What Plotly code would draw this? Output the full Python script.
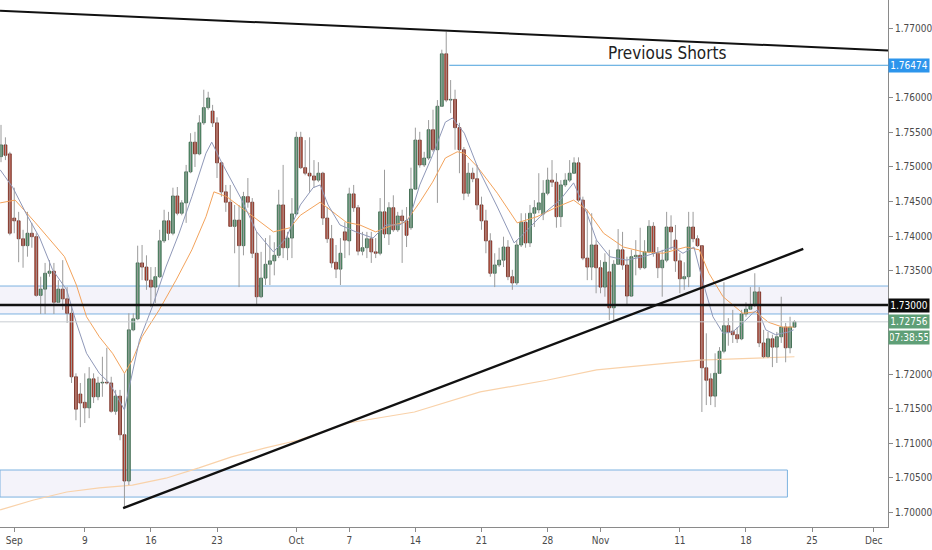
import plotly.graph_objects as go

# 8h candles, x = bar index (weekends skipped like the trading view axis)
opens = [
    1.7515, 1.7532, 1.7519, 1.7426, 1.7422, 1.7396, 1.7386, 1.7404, 1.7399, 1.7314,
    1.7323, 1.7346, 1.7349, 1.7304, 1.7323, 1.7309, 1.7288, 1.7196, 1.7171, 1.7159,
    1.7151, 1.7193, 1.7167, 1.7187, 1.7188, 1.7187, 1.7146, 1.7168, 1.7112, 1.7045,
    1.7264, 1.7280, 1.7361, 1.7355, 1.7336, 1.7326, 1.7341, 1.7393, 1.7422, 1.7404,
    1.7458, 1.7433, 1.7448, 1.7493, 1.7536, 1.7519, 1.7564, 1.7586, 1.7581, 1.7564,
    1.7506, 1.7464, 1.7449, 1.7414, 1.7423, 1.7386, 1.7457, 1.7449, 1.7375, 1.7312,
    1.7339, 1.7359, 1.7364, 1.7372, 1.7445, 1.7383, 1.7397, 1.7432, 1.7543, 1.7499,
    1.7491, 1.7487, 1.7481, 1.7491, 1.7426, 1.7396, 1.7362, 1.7352, 1.7406, 1.7393,
    1.7461, 1.7441, 1.7378, 1.7383, 1.7396, 1.7377, 1.7375, 1.7435, 1.7403, 1.7441,
    1.7409, 1.7429, 1.7422, 1.7412, 1.7468, 1.7539, 1.7503, 1.7513, 1.7554, 1.7525,
    1.7588, 1.7664, 1.7597, 1.7598, 1.7557, 1.7525, 1.7462, 1.7491, 1.7483, 1.7445,
    1.7422, 1.7393, 1.7346, 1.7358, 1.7365, 1.7384, 1.7341, 1.7332, 1.7387, 1.7420,
    1.7390, 1.7433, 1.7438, 1.7432, 1.7462, 1.7481, 1.7478, 1.7428, 1.7474, 1.7481,
    1.7491, 1.7506, 1.7452, 1.7368, 1.7355, 1.7387, 1.7354, 1.7326, 1.7348, 1.7296,
    1.7359, 1.7380, 1.7358, 1.7313, 1.7370, 1.7372, 1.7354, 1.7377, 1.7414, 1.7375,
    1.7354, 1.7365, 1.7413, 1.7394, 1.7364, 1.7338, 1.7341, 1.7413, 1.7396, 1.7386,
    1.7209, 1.7193, 1.7168, 1.7201, 1.7233, 1.7270, 1.7262, 1.7257, 1.7251, 1.7287,
    1.7294, 1.7300, 1.7319, 1.7245, 1.7225, 1.7251, 1.7239, 1.7254, 1.7268, 1.7238,
    1.7268,
]
highs = [
    1.7561, 1.7543, 1.7522, 1.7470, 1.7435, 1.7409, 1.7435, 1.7419, 1.7404, 1.7341,
    1.7361, 1.7365, 1.7361, 1.7336, 1.7365, 1.7326, 1.7297, 1.7201, 1.7187, 1.7201,
    1.7210, 1.7201, 1.7196, 1.7225, 1.7238, 1.7196, 1.7177, 1.7177, 1.7201, 1.7288,
    1.7288, 1.7386, 1.7387, 1.7372, 1.7355, 1.7355, 1.7409, 1.7438, 1.7435, 1.7470,
    1.7471, 1.7452, 1.7503, 1.7549, 1.7551, 1.7575, 1.7612, 1.7609, 1.7590, 1.7572,
    1.7507, 1.7474, 1.7474, 1.7445, 1.7445, 1.7464, 1.7484, 1.7455, 1.7406, 1.7377,
    1.7397, 1.7401, 1.7391, 1.7467, 1.7503, 1.7406, 1.7455, 1.7551, 1.7551, 1.7539,
    1.7543, 1.7510, 1.7507, 1.7493, 1.7442, 1.7416, 1.7387, 1.7397, 1.7420, 1.7470,
    1.7474, 1.7445, 1.7406, 1.7406, 1.7406, 1.7397, 1.7455, 1.7496, 1.7449, 1.7459,
    1.7435, 1.7438, 1.7442, 1.7499, 1.7557, 1.7551, 1.7522, 1.7568, 1.7583, 1.7597,
    1.7670, 1.7696, 1.7626, 1.7612, 1.7564, 1.7529, 1.7506, 1.7499, 1.7503, 1.7457,
    1.7438, 1.7404, 1.7375, 1.7383, 1.7399, 1.7394, 1.7351, 1.7394, 1.7433, 1.7433,
    1.7445, 1.7452, 1.7491, 1.7481, 1.7499, 1.7510, 1.7491, 1.7481, 1.7491, 1.7510,
    1.7514, 1.7514, 1.7457, 1.7438, 1.7433, 1.7394, 1.7365, 1.7375, 1.7380, 1.7365,
    1.7410, 1.7406, 1.7370, 1.7380, 1.7394, 1.7412, 1.7394, 1.7423, 1.7420, 1.7384,
    1.7380, 1.7435, 1.7430, 1.7416, 1.7375, 1.7362, 1.7435, 1.7435, 1.7401, 1.7387,
    1.7259, 1.7201, 1.7230, 1.7239, 1.7333, 1.7281, 1.7293, 1.7268, 1.7293, 1.7304,
    1.7326, 1.7346, 1.7326, 1.7264, 1.7261, 1.7257, 1.7261, 1.7312, 1.7274, 1.7283,
    1.7278,
]
lows = [
    1.7507, 1.7510, 1.7401, 1.7404, 1.7362, 1.7354, 1.7370, 1.7383, 1.7312, 1.7287,
    1.7287, 1.7341, 1.7287, 1.7303, 1.7293, 1.7274, 1.7187, 1.7133, 1.7123, 1.7129,
    1.7136, 1.7158, 1.7162, 1.7167, 1.7185, 1.7144, 1.7141, 1.7104, 1.7006, 1.7039,
    1.7262, 1.7278, 1.7336, 1.7322, 1.7297, 1.7303, 1.7339, 1.7390, 1.7394, 1.7401,
    1.7430, 1.7430, 1.7419, 1.7491, 1.7500, 1.7517, 1.7561, 1.7583, 1.7558, 1.7484,
    1.7457, 1.7435, 1.7413, 1.7375, 1.7326, 1.7372, 1.7441, 1.7368, 1.7300, 1.7310,
    1.7329, 1.7329, 1.7343, 1.7368, 1.7368, 1.7365, 1.7368, 1.7430, 1.7497, 1.7488,
    1.7464, 1.7470, 1.7478, 1.7416, 1.7390, 1.7354, 1.7339, 1.7329, 1.7368, 1.7372,
    1.7435, 1.7372, 1.7372, 1.7368, 1.7361, 1.7368, 1.7372, 1.7397, 1.7387, 1.7406,
    1.7406, 1.7361, 1.7384, 1.7409, 1.7467, 1.7499, 1.7500, 1.7510, 1.7522, 1.7448,
    1.7587, 1.7594, 1.7578, 1.7525, 1.7491, 1.7452, 1.7457, 1.7478, 1.7438, 1.7409,
    1.7375, 1.7341, 1.7326, 1.7355, 1.7355, 1.7336, 1.7322, 1.7329, 1.7384, 1.7383,
    1.7384, 1.7413, 1.7433, 1.7423, 1.7459, 1.7471, 1.7412, 1.7413, 1.7471, 1.7478,
    1.7491, 1.7449, 1.7365, 1.7336, 1.7336, 1.7317, 1.7317, 1.7312, 1.7278, 1.7278,
    1.7358, 1.7351, 1.7300, 1.7312, 1.7343, 1.7351, 1.7352, 1.7375, 1.7370, 1.7339,
    1.7312, 1.7362, 1.7380, 1.7348, 1.7317, 1.7322, 1.7326, 1.7391, 1.7384, 1.7145,
    1.7155, 1.7155, 1.7152, 1.7200, 1.7230, 1.7241, 1.7245, 1.7245, 1.7249, 1.7283,
    1.7293, 1.7297, 1.7239, 1.7223, 1.7223, 1.7210, 1.7216, 1.7245, 1.7217, 1.7230,
    1.7267,
]
closes = [
    1.7532, 1.7517, 1.7404, 1.7422, 1.7396, 1.7386, 1.7404, 1.7399, 1.7314, 1.7323,
    1.7346, 1.7349, 1.7304, 1.7323, 1.7309, 1.7288, 1.7196, 1.7149, 1.7158, 1.7151,
    1.7193, 1.7167, 1.7187, 1.7188, 1.7187, 1.7146, 1.7168, 1.7112, 1.7045, 1.7264,
    1.7280, 1.7361, 1.7355, 1.7336, 1.7326, 1.7341, 1.7393, 1.7422, 1.7404, 1.7458,
    1.7433, 1.7448, 1.7493, 1.7536, 1.7519, 1.7564, 1.7586, 1.7600, 1.7564, 1.7506,
    1.7464, 1.7449, 1.7414, 1.7423, 1.7386, 1.7457, 1.7449, 1.7375, 1.7312, 1.7339,
    1.7359, 1.7364, 1.7372, 1.7445, 1.7383, 1.7397, 1.7432, 1.7543, 1.7499, 1.7491,
    1.7487, 1.7481, 1.7491, 1.7426, 1.7396, 1.7361, 1.7352, 1.7375, 1.7394, 1.7461,
    1.7441, 1.7378, 1.7383, 1.7396, 1.7377, 1.7375, 1.7435, 1.7403, 1.7441, 1.7409,
    1.7429, 1.7422, 1.7401, 1.7468, 1.7539, 1.7503, 1.7513, 1.7554, 1.7525, 1.7588,
    1.7664, 1.7597, 1.7598, 1.7557, 1.7525, 1.7462, 1.7491, 1.7483, 1.7445, 1.7422,
    1.7393, 1.7346, 1.7358, 1.7365, 1.7384, 1.7341, 1.7332, 1.7387, 1.7420, 1.7390,
    1.7433, 1.7441, 1.7448, 1.7462, 1.7481, 1.7478, 1.7428, 1.7474, 1.7481, 1.7491,
    1.7506, 1.7452, 1.7368, 1.7355, 1.7387, 1.7354, 1.7326, 1.7362, 1.7296, 1.7359,
    1.7380, 1.7358, 1.7313, 1.7370, 1.7372, 1.7354, 1.7377, 1.7414, 1.7375, 1.7354,
    1.7365, 1.7413, 1.7406, 1.7364, 1.7338, 1.7341, 1.7413, 1.7396, 1.7386, 1.7209,
    1.7191, 1.7168, 1.7201, 1.7233, 1.7270, 1.7261, 1.7257, 1.7251, 1.7287, 1.7294,
    1.7300, 1.7319, 1.7245, 1.7225, 1.7251, 1.7239, 1.7254, 1.7268, 1.7238, 1.7268,
    1.72756,
]

# moving averages (bar index, price)
fast_ma_x = [-0.2, 2.7, 5.9, 8.8, 11.7, 14.9, 17.1, 19.4, 22.3, 24.6, 26.8, 28.0, 29.1,
             31.4, 34.3, 37.4, 40.4, 43.3, 46.5, 47.8, 50.1, 54.4, 58.0, 61.8, 64.7,
             67.9, 70.8, 72.4, 74.2, 76.9, 80.5, 84.4, 87.3, 90.5, 92.7, 95.0, 97.9,
             100.8, 102.4, 105.1, 108.1, 112.6, 116.4, 118.7, 122.3, 126.8, 129.9,
             132.9, 135.1, 138.1, 141.9, 145.7, 149.3, 152.5, 154.7, 157.2, 159.3,
             161.5, 163.8, 166.0, 168.3, 170.5, 171.7, 173.5, 175.7, 178.7, 179.8]
fast_ma_y = [1.7496, 1.7470, 1.7430, 1.7397, 1.7351, 1.7322, 1.7274, 1.7230, 1.7201,
             1.7187, 1.7162, 1.7148, 1.7181, 1.7249, 1.7297, 1.7355, 1.7404, 1.7457,
             1.7520, 1.7536, 1.7506, 1.7455, 1.7406, 1.7377, 1.7397, 1.7445, 1.7470,
             1.7474, 1.7445, 1.7416, 1.7406, 1.7397, 1.7416, 1.7416, 1.7426, 1.7474,
             1.7517, 1.7565, 1.7571, 1.7549, 1.7500, 1.7442, 1.7390, 1.7404, 1.7428,
             1.7452, 1.7477, 1.7433, 1.7394, 1.7370, 1.7365, 1.7370, 1.7377, 1.7384,
             1.7375, 1.7384, 1.7332, 1.7283, 1.7259, 1.7261, 1.7274, 1.7288, 1.7293,
             1.7264, 1.7257, 1.7261, 1.7264]
slow_ma_x = [-0.2, 3.2, 7.7, 11.1, 14.4, 17.1, 19.4, 22.3, 25.3, 28.0, 29.8, 32.0, 35.9,
             39.7, 43.3, 46.5, 48.3, 51.2, 55.7, 61.8, 65.6, 67.9, 72.4, 75.3, 78.3,
             81.4, 85.0, 88.9, 91.8, 95.0, 97.9, 100.8, 103.5, 105.1, 108.1, 112.6,
             117.1, 121.6, 126.1, 129.9, 132.9, 136.7, 141.2, 145.7, 150.2, 155.4,
             158.4, 160.6, 163.8, 168.3, 171.2, 174.1, 177.3, 179.8]
slow_ma_y = [1.7448, 1.7452, 1.7420, 1.7394, 1.7370, 1.7329, 1.7283, 1.7254, 1.7230,
             1.7201, 1.7220, 1.7254, 1.7293, 1.7336, 1.7380, 1.7428, 1.7464, 1.7457,
             1.7435, 1.7406, 1.7412, 1.7430, 1.7449, 1.7435, 1.7420, 1.7416, 1.7406,
             1.7416, 1.7420, 1.7449, 1.7478, 1.7513, 1.7522, 1.7520, 1.7500, 1.7462,
             1.7419, 1.7428, 1.7442, 1.7452, 1.7438, 1.7404, 1.7384, 1.7377, 1.7375,
             1.7384, 1.7380, 1.7346, 1.7312, 1.7288, 1.7290, 1.7275, 1.7268, 1.7268]
long_ma_x = [-0.2, 7.2, 14.9, 22.3, 29.8, 37.4, 44.9, 52.3, 60.0, 67.4, 78.7, 93.8,
             108.7, 123.8, 135.1, 158.4, 180.0]
long_ma_y = [1.7003, 1.7017, 1.7029, 1.7035, 1.7039, 1.7049, 1.7064, 1.7080, 1.7093,
             1.7104, 1.7129, 1.7145, 1.7174, 1.7191, 1.7206, 1.7220, 1.7225]

# drawings
x_min, x_max = -0.23, 201.22
y_min, y_max = 1.69783, 1.77420
desc_trend_x = [x_min, x_max]
desc_trend_y = [1.77265, 1.76688]
asc_trend_x = [27.7, 182.0]
asc_trend_y = [1.70058, 1.73812]
key_level = 1.73000
prev_shorts = 1.76474
prev_shorts_start = 101.7
last_price = 1.72756
countdown = "07:38:55"
upper_zone = [1.72870, 1.73275]
lower_zone = [1.70217, 1.70609]
lower_zone_end = 178.4

tick_idx = [3, 19, 34, 49, 67, 79, 94, 109, 124, 136, 154, 169, 184, 198]
tick_text = ["Sep", "9", "16", "23", "Oct", "7", "14", "21", "28", "Nov", "11", "18", "25", "Dec"]
price_ticks = [round(1.70 + 0.005 * k, 3) for k in range(15)]
# ticks hidden behind the coloured price tags on the scale
covered = [prev_shorts, key_level, last_price - 0.0024]
price_ticks = [p for p in price_ticks if all(abs(p - c) > 0.0012 for c in covered)]

FONT = "Liberation Sans Narrow, DejaVu Sans Condensed, Arial Narrow, sans-serif"
GREEN, GREEN_EDGE = "#5a9e74", "#2f5b40"
RED, RED_EDGE = "#c6442f", "#6a2419"
ZONE_LINE = "#7db2e0"
ZONE_FILL = "rgba(178,168,220,0.14)"

idx = list(range(len(closes)))
up = [c >= o for o, c in zip(opens, closes)]

wick_x, wick_y = [], []
for i, h, l in zip(idx, highs, lows):
    wick_x += [i, i, None]
    wick_y += [l, h, None]

fig = go.Figure()

fig.add_trace(go.Scatter(x=long_ma_x, y=long_ma_y, mode="lines",
                         line=dict(color="#f9d2aa", width=1.2), hoverinfo="skip"))
fig.add_trace(go.Scatter(x=wick_x, y=wick_y, mode="lines",
                         line=dict(color="#9c9c9c", width=1), hoverinfo="skip"))
fig.add_trace(go.Bar(
    x=idx,
    y=[abs(c - o) for o, c in zip(opens, closes)],
    base=[min(o, c) for o, c in zip(opens, closes)],
    width=0.66,
    marker=dict(color=[GREEN if u else RED for u in up],
                line=dict(color=[GREEN_EDGE if u else RED_EDGE for u in up], width=0.8)),
    hoverinfo="skip",
))
fig.add_trace(go.Scatter(x=slow_ma_x, y=slow_ma_y, mode="lines",
                         line=dict(color="#f3a35c", width=1), hoverinfo="skip"))
fig.add_trace(go.Scatter(x=fast_ma_x, y=fast_ma_y, mode="lines",
                         line=dict(color="#8f98b8", width=1), hoverinfo="skip"))

# horizontal levels and trend lines
fig.add_trace(go.Scatter(x=[x_min, x_max], y=[last_price, last_price], mode="lines",
                         line=dict(color="#c8cdd2", width=1), hoverinfo="skip"))
fig.add_trace(go.Scatter(x=[prev_shorts_start, x_max], y=[prev_shorts, prev_shorts], mode="lines",
                         line=dict(color="#4aa0dc", width=1), hoverinfo="skip"))
fig.add_trace(go.Scatter(x=[x_min, x_max], y=[key_level, key_level], mode="lines",
                         line=dict(color="#111111", width=2.4), hoverinfo="skip"))
fig.add_trace(go.Scatter(x=desc_trend_x, y=desc_trend_y, mode="lines",
                         line=dict(color="#111111", width=2), hoverinfo="skip"))
fig.add_trace(go.Scatter(x=asc_trend_x, y=asc_trend_y, mode="lines",
                         line=dict(color="#111111", width=2.4), hoverinfo="skip"))

# zones
fig.add_shape(type="rect", xref="x", yref="y", x0=x_min, x1=x_max,
              y0=upper_zone[0], y1=upper_zone[1], fillcolor=ZONE_FILL,
              line=dict(width=0), layer="below")
for lvl in upper_zone:
    fig.add_shape(type="line", xref="x", yref="y", x0=x_min, x1=x_max, y0=lvl, y1=lvl,
                  line=dict(color=ZONE_LINE, width=1), layer="below")
fig.add_shape(type="rect", xref="x", yref="y", x0=x_min, x1=lower_zone_end,
              y0=lower_zone[0], y1=lower_zone[1], fillcolor=ZONE_FILL,
              line=dict(color=ZONE_LINE, width=1), layer="below")

fig.add_annotation(x=151, y=prev_shorts, xref="x", yref="y", text="Previous Shorts",
                   showarrow=False, yanchor="bottom", yshift=0,
                   font=dict(family=FONT, size=17, color="#222222"))

# price scale labels
def price_tag(y, text, bg, yshift=0):
    fig.add_annotation(x=1, xref="paper", y=y, yref="y", xanchor="left", yshift=yshift,
                       text=text, showarrow=False, bgcolor=bg, borderpad=1, width=38,
                       align="center", font=dict(family=FONT, size=10, color="white"))

price_tag(prev_shorts, f"{prev_shorts:.5f}", "#2d95ec")
price_tag(key_level, f"{key_level:.5f}", "#0c0c0c")
price_tag(last_price, f"{last_price:.5f}", "#5f9f77")
price_tag(last_price, countdown, "#5f9f77", yshift=-16)

fig.update_layout(
    width=932, height=550,
    margin=dict(l=0, r=39, t=0, b=23),
    paper_bgcolor="white", plot_bgcolor="white",
    showlegend=False,
    hovermode=False,
    xaxis=dict(range=[x_min, x_max], tickvals=tick_idx, ticktext=tick_text,
               showgrid=False, zeroline=False, showline=True, linecolor="#8a8a8a",
               ticks="outside", ticklen=4, tickcolor="#8a8a8a",
               tickfont=dict(family=FONT, size=10, color="#4a4a4a")),
    yaxis=dict(range=[y_min, y_max], side="right", tickvals=price_ticks,
               tickformat=".5f", showgrid=False, zeroline=False, showline=True,
               linecolor="#8a8a8a", ticks="outside", ticklen=4, tickcolor="#8a8a8a",
               tickfont=dict(family=FONT, size=10, color="#4a4a4a")),
)

fig.write_html("out.html", config={"displayModeBar": False},
               post_script="document.body.style.margin='0';")
